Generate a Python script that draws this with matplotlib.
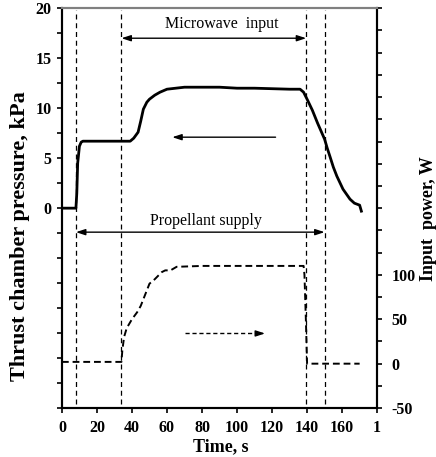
import matplotlib
matplotlib.use('Agg')
import matplotlib.pyplot as plt
import numpy as np

plt.rcParams['font.family'] = ['Liberation Serif', 'DejaVu Serif']

# thrust chamber pressure, kPa
p_time = [0, 8, 8.5, 9, 10, 11, 12, 20, 30, 39, 41, 43.5, 45, 46.5, 48.5, 50, 53, 56,
          60, 65, 70, 80, 90, 100, 110, 120, 130, 136, 138, 140, 143, 146, 149, 150,
          151.5, 153, 155, 157, 160.5, 164.5, 167, 170, 171]
pressure = [0, 0, 1.5, 4.5, 6.2, 6.6, 6.7, 6.7, 6.7, 6.7, 7.0, 7.6, 8.7, 9.9, 10.6, 10.9,
            11.3, 11.6, 11.9, 12.0, 12.1, 12.1, 12.1, 12.0, 12.0, 11.95, 11.9, 11.9, 11.6,
            10.9, 9.8, 8.5, 7.3, 6.9, 6.0, 5.2, 4.1, 3.2, 1.9, 0.9, 0.5, 0.3, -0.3]

# input power, W
w_time = [0, 34, 34.5, 35.5, 37, 40, 43, 45, 48, 50, 53, 57, 59, 62, 65.5, 80, 100, 120,
          138, 138.5, 139.3, 140, 170]
power = [2, 2, 15, 30, 40, 50, 58, 65, 80, 90, 95, 103, 105, 105, 109, 110, 110, 110,
         110, 100, 50, 0, 0]

events = [8, 34, 139.5, 150]  # propellant on, microwave on, microwave off, propellant off

xticks = [0, 20, 40, 60, 80, 100, 120, 140, 160, 180]
xlabels = ['0', '20', '40', '60', '80', '100', '120', '140', '160', '1']

fig = plt.figure(figsize=(4.36, 4.57), dpi=100)
ax = fig.add_axes([0.142, 0.107, 0.723, 0.875])
ax2 = ax.twinx()

ax.plot(p_time, pressure, color='black', lw=2.0)
ax2.plot(w_time, power, color='black', lw=1.4, linestyle=(0, (3.5, 2)))

for t in events:
    ax.axvline(t, ymin=0.01, ymax=0.995, color='black', lw=0.9, linestyle=(0, (4, 3)))

ax.set_xlim(0, 180)
ax.set_ylim(-20, 20)
ax2.set_ylim(-50, 400)

tick_font = dict(fontweight='bold', fontsize=11.5)
ax.set_xticks(xticks)
ax.set_xticklabels(xlabels, **tick_font)
lt = np.arange(-20, 20.1, 2.5)
ax.set_yticks(lt)
ax.set_yticklabels([('%d' % v) if (v >= 0 and v % 5 == 0) else '' for v in lt], **tick_font)
rt = np.arange(-50, 401, 25)
ax2.set_yticks(rt)
ax2.set_yticklabels([('%d' % v) if (v <= 100 and v % 50 == 0) else '' for v in rt],
                    **tick_font)

ax.tick_params(direction='out', length=3.5, width=1.2)
ax.tick_params(axis='x', pad=5)
ax.tick_params(axis='y', pad=4)
ax2.tick_params(direction='out', length=3.5, width=1.2, pad=7)

for a in (ax, ax2):
    for s in ('left', 'right', 'bottom'):
        a.spines[s].set_linewidth(1.5)
    a.spines['top'].set_color('#808080')
    a.spines['top'].set_linewidth(1.5)

ax.set_xlabel('Time, s', fontweight='bold', fontsize=13)
ax.xaxis.set_label_coords(0.505, -0.075)
ax.set_ylabel('Thrust chamber pressure, kPa', fontweight='bold', fontsize=16)
ax.yaxis.set_label_coords(-0.1, 0.43)
ax2.set_ylabel('Input  power, W', fontweight='bold', fontsize=13)
ax2.yaxis.set_label_coords(1.135, 0.475)

head = '<|-|>,head_length=0.55,head_width=0.18'
ax.annotate('', xy=(events[1], 17.0), xytext=(events[2], 17.0),
            arrowprops=dict(arrowstyle=head, color='black', lw=1.0, shrinkA=0, shrinkB=0))
ax.text(91, 18.4, 'Microwave  input', ha='center', va='center', fontsize=11.5)
ax.annotate('', xy=(events[0], -2.4), xytext=(events[3], -2.4),
            arrowprops=dict(arrowstyle=head, color='black', lw=1.0, shrinkA=0, shrinkB=0))
ax.text(82, -1.3, 'Propellant supply', ha='center', va='center', fontsize=11.5)

# pointer to the pressure axis
ax.annotate('', xy=(63, 7.1), xytext=(122, 7.1),
            arrowprops=dict(arrowstyle='-|>,head_length=0.55,head_width=0.18',
                            color='black', lw=1.0, shrinkA=0, shrinkB=0))
# pointer to the power axis (dashed shaft)
ax2.plot([70, 113], [34, 34], color='black', lw=1.0, linestyle=(0, (3, 2)))
ax2.annotate('', xy=(116, 34), xytext=(113, 34),
             arrowprops=dict(arrowstyle='-|>,head_length=0.55,head_width=0.18',
                             color='black', lw=1.0, shrinkA=0, shrinkB=0))

fig.savefig('out.png', dpi=100)
